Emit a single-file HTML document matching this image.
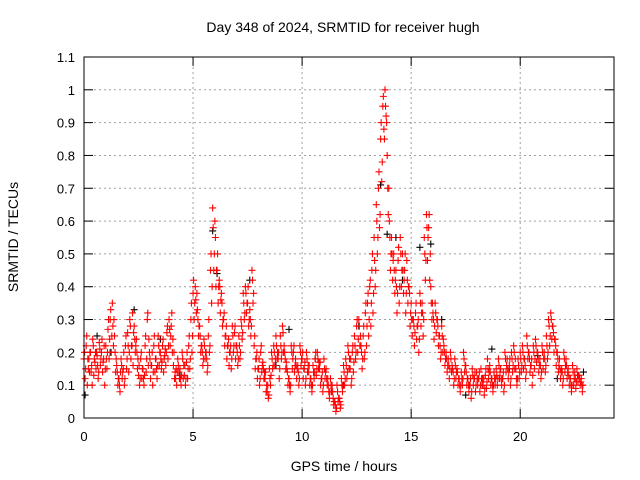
<!DOCTYPE html>
<html><head><meta charset="utf-8"><style>
body{margin:0;background:#fff}
svg{display:block;font-family:"Liberation Sans",sans-serif}
</style></head><body>
<svg id="chart" width="640" height="480" viewBox="0 0 640 480">
<text x="343" y="32" font-size="14" text-anchor="middle">Day 348 of 2024, SRMTID for receiver hugh</text>
<text x="344" y="471" font-size="14" text-anchor="middle">GPS time / hours</text>
<text transform="translate(18,237) rotate(-90)" font-size="14" text-anchor="middle">SRMTID / TECUs</text>
<g id="grid"></g><g id="ticks"></g><g id="marks"></g>
<rect x="84" y="57" width="530" height="361" fill="none" stroke="#000" stroke-width="1"/>
</svg>
<script>
const xTicks=[0,5,10,15,20];
const yTicks=[0,0.1,0.2,0.3,0.4,0.5,0.6,0.7,0.8,0.9,1,1.1];
const yTickLabels=["0","0.1","0.2","0.3","0.4","0.5","0.6","0.7","0.8","0.9","1","1.1"];
const timeStep=0.1;
const seriesA=[.18,.22,.15,.2,.24,.17,.19,.23,.2,.18,
.22,.27,.3,.35,.25,.16,.12,.18,.15,.22,
.26,.3,.22,.28,.24,.13,.18,.15,.22,.3,
.2,.16,.22,.18,.25,.2,.22,.19,.26,.3,
.28,.16,.12,.18,.15,.2,.13,.17,.22,.3,
.38,.4,.33,.28,.22,.24,.2,.25,.45,.64,
.6,.45,.42,.38,.3,.25,.22,.2,.28,.26,
.22,.25,.3,.38,.4,.35,.33,.45,.22,.18,
.15,.2,.17,.12,.08,.15,.2,.22,.25,.18,
.25,.28,.2,.15,.12,.22,.2,.18,.16,.22,
.18,.15,.2,.14,.12,.16,.18,.2,.15,.12,
.18,.15,.1,.12,.08,.05,.1,.06,.12,.16,
.18,.22,.15,.2,.25,.28,.3,.22,.25,.32,
.35,.4,.45,.55,.65,.7,.85,.95,1.0,.8,
.6,.55,.5,.45,.48,.55,.5,.45,.48,.4,
.35,.3,.32,.28,.38,.35,.55,.62,.58,.4,
.32,.35,.3,.25,.28,.22,.2,.18,.2,.15,
.18,.15,.12,.14,.2,.16,.12,.1,.15,.12,
.14,.12,.15,.1,.13,.18,.16,.12,.14,.15,
.18,.15,.12,.2,.18,.16,.2,.22,.15,.18,
.2,.22,.18,.25,.2,.16,.22,.24,.2,.18,
.22,.2,.25,.3,.32,.28,.24,.2,.18,.15,
.2,.18,.15,.12,.16,.14,.15,.13,.12];
const seriesB=[.12,.1,.14,.16,.13,.15,.12,.16,.14,.1,
.15,.18,.2,.22,.14,.1,.08,.12,.1,.15,
.14,.18,.16,.2,.15,.1,.12,.1,.14,.16,
.12,.1,.14,.12,.16,.15,.14,.16,.18,.22,
.2,.12,.1,.14,.1,.12,.1,.12,.15,.2,
.3,.32,.25,.2,.16,.18,.14,.2,.35,.45,
.4,.35,.32,.28,.22,.18,.16,.15,.2,.18,
.16,.18,.24,.3,.32,.28,.25,.35,.15,.12,
.1,.14,.12,.08,.06,.1,.15,.16,.18,.12,
.18,.2,.15,.1,.08,.15,.14,.12,.1,.16,
.12,.1,.14,.1,.08,.12,.13,.15,.1,.08,
.12,.1,.06,.08,.04,.02,.05,.03,.08,.1,
.12,.15,.1,.14,.18,.2,.22,.15,.18,.22,
.25,.28,.32,.4,.5,.58,.72,.88,.92,.62,
.45,.42,.38,.32,.35,.4,.38,.32,.35,.28,
.25,.22,.24,.2,.28,.25,.42,.48,.42,.3,
.24,.26,.22,.18,.2,.16,.14,.12,.14,.1,
.12,.1,.08,.1,.14,.1,.08,.06,.1,.08,
.1,.08,.1,.07,.09,.12,.1,.08,.1,.1,
.12,.1,.08,.14,.12,.1,.14,.15,.1,.12,
.14,.15,.12,.18,.14,.1,.15,.17,.14,.12,
.15,.14,.18,.22,.24,.2,.16,.14,.12,.1,
.14,.12,.1,.08,.1,.09,.11,.1,.08];
const seriesC=[.2,.25,.18,.14,.22,.2,.16,.21,.24,.22,
.18,.3,.33,.28,.2,.14,.1,.16,.2,.25,
.22,.28,.32,.24,.2,.16,.2,.12,.25,.32,
.18,.2,.25,.15,.22,.18,.24,.21,.28,.27,
.32,.2,.15,.16,.12,.18,.16,.2,.25,.35,
.42,.36,.3,.25,.2,.22,.18,.3,.5,.58,
.55,.5,.4,.35,.32,.28,.24,.22,.25,.28,
.2,.22,.28,.35,.38,.4,.3,.42,.25,.2,
.18,.22,.15,.14,.1,.12,.18,.2,.22,.2,
.22,.26,.18,.14,.1,.2,.22,.16,.14,.2,
.2,.17,.18,.16,.1,.14,.2,.18,.17,.14,
.15,.12,.08,.1,.06,.04,.08,.05,.1,.14,
.16,.2,.18,.22,.22,.3,.28,.2,.28,.35,
.38,.42,.5,.48,.6,.75,.9,.98,.95,.7,
.55,.5,.45,.4,.52,.5,.45,.5,.42,.38,
.3,.28,.35,.3,.35,.32,.5,.58,.62,.35,
.3,.32,.28,.22,.25,.2,.18,.16,.18,.14,
.16,.14,.1,.12,.18,.14,.1,.12,.13,.14,
.12,.14,.12,.12,.15,.15,.14,.1,.12,.13,
.16,.12,.14,.18,.15,.18,.18,.2,.12,.16,
.18,.2,.16,.22,.18,.18,.2,.22,.18,.16,
.2,.18,.22,.28,.3,.26,.22,.18,.15,.14,
.18,.16,.13,.1,.14,.12,.13,.12,.1];
const seriesD=[.15,.18,.2,.1,.18,.2,.14,.18,.17,.15,
.2,.24,.25,.3,.18,.12,.14,.14,.12,.18,
.2,.22,.26,.22,.18,.12,.15,.13,.18,.24,
.16,.14,.18,.16,.2,.17,.18,.2,.22,.25,
.24,.14,.14,.12,.13,.16,.12,.15,.18,.25,
.35,.38,.28,.22,.18,.2,.16,.22,.4,.5,
.45,.4,.36,.3,.25,.22,.2,.18,.22,.22,
.18,.2,.26,.32,.35,.3,.28,.38,.18,.15,
.12,.16,.14,.1,.07,.13,.16,.18,.2,.15,
.2,.22,.17,.12,.1,.18,.16,.15,.12,.18,
.15,.12,.16,.12,.1,.14,.15,.17,.12,.1,
.14,.12,.08,.1,.05,.03,.06,.04,.1,.12,
.14,.18,.12,.17,.2,.24,.25,.18,.2,.28,
.3,.35,.38,.45,.55,.62,.78,.85,.9,.7,
.5,.48,.42,.38,.4,.45,.42,.38,.4,.32,
.3,.26,.28,.24,.32,.3,.48,.55,.5,.35,
.28,.3,.25,.2,.24,.18,.16,.15,.16,.12,
.14,.12,.1,.12,.16,.12,.1,.08,.12,.1,
.12,.1,.12,.09,.11,.14,.12,.1,.12,.12,
.14,.12,.1,.16,.14,.12,.16,.18,.12,.14,
.16,.18,.14,.2,.16,.13,.18,.2,.16,.14,
.18,.16,.2,.25,.28,.24,.2,.16,.14,.12,
.16,.14,.12,.1,.12,.11,.13,.11,.1];
const blackTimes=[0.05,0.6,2.3,5.9,6.1,7.6,9.4,12.6,13.6,13.9,14.3,14.6,15.4,15.9,17.5,18.7,19.5,22.9,1.2,3.5,4.4,8.8,10.6,11.9,16.4,20.8,21.7];
const blackValues=[0.07,0.25,0.33,0.57,0.44,0.42,0.27,0.28,0.71,0.56,0.55,0.42,0.52,0.53,0.07,0.21,0.15,0.14,0.2,0.24,0.13,0.16,0.18,0.1,0.3,0.19,0.12];
const X0=84,XW=530,XMAX=24.3,Y0=418,YPX=328.2;
const xs=t=>X0+t/XMAX*XW, ys=v=>Y0-v*YPX;
const NS="http://www.w3.org/2000/svg";
const grid=document.getElementById('grid'),ticks=document.getElementById('ticks'),marks=document.getElementById('marks');
function mk(tag,attrs,parent){const e=document.createElementNS(NS,tag);for(const k in attrs)e.setAttribute(k,attrs[k]);parent.appendChild(e);return e;}
xTicks.forEach(t=>{const x=xs(t);
 if(t>0){const g=mk('line',{x1:x,x2:x,y1:57,y2:418,stroke:'#a0a0a0','stroke-dasharray':'2,3','stroke-width':1},grid);
 
 }
 mk('line',{x1:x,x2:x,y1:418,y2:409,stroke:'#000'},ticks);mk('line',{x1:x,x2:x,y1:57,y2:66,stroke:'#000'},ticks);
 const l=mk('text',{x:x,y:441,'font-size':13,'text-anchor':'middle'},ticks);l.textContent=t;
 
 });
yTicks.forEach((v,i)=>{const y=ys(v);
 if(v>0&&v<1.1){const g=mk('line',{x1:84,x2:614,y1:y,y2:y,stroke:'#a0a0a0','stroke-dasharray':'2,3','stroke-width':1},grid);
 
 }
 mk('line',{x1:84,x2:93,y1:y,y2:y,stroke:'#000'},ticks);mk('line',{x1:614,x2:605,y1:y,y2:y,stroke:'#000'},ticks);
 const l=mk('text',{x:75,y:y+5,'font-size':13,'text-anchor':'end'},ticks);l.textContent=yTickLabels[i];
 
 });
function plus(t,v,color,name){const x=xs(t),y=ys(v);
 const p=mk('path',{d:`M${x-3.5},${y}H${x+3.5}M${x},${y-3.5}V${y+3.5}`,stroke:color,'stroke-width':1.1,fill:'none'},marks);
 
 }
blackTimes.forEach((t,i)=>plus(t,blackValues[i],'#000','black-point'));
seriesD.forEach((v,i)=>plus(i*timeStep+0.075,v,'#ff0000','red-point'));
seriesB.forEach((v,i)=>plus(i*timeStep+0.05,v,'#ff0000','red-point'));
seriesC.forEach((v,i)=>plus(i*timeStep+0.025,v,'#ff0000','red-point'));
seriesA.forEach((v,i)=>plus(i*timeStep,v,'#ff0000','red-point'));
</script>
</body></html>
